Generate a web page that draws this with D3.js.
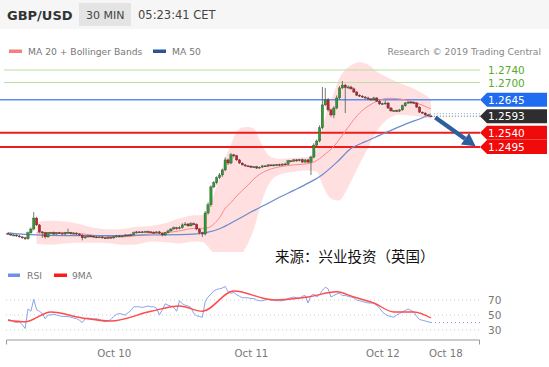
<!DOCTYPE html>
<html><head><meta charset="utf-8">
<script src="https://cdn.jsdelivr.net/npm/d3@7"></script>
<style>body{margin:0;background:#fff;} svg{display:block;font-family:"DejaVu Sans",sans-serif;}</style>
</head><body><svg id="c" width="549" height="367"></svg>
<script>
// ---------------- DATA ----------------
const firstOpen = 1.2220;
const closes = [
1.2218,1.2215,1.2215,1.2212,1.2209,1.2206,1.2203,1.2222,1.2234,1.2269,
1.2247,1.2225,1.2222,1.2209,1.2222,1.2222,1.2218,1.2222,1.2221,1.2218,
1.2222,1.2223,1.2219,1.2221,1.2218,1.2215,1.2206,1.2209,1.2212,1.2211,
1.2209,1.2208,1.2209,1.2206,1.2205,1.2208,1.2206,1.2209,1.2212,1.2211,
1.2212,1.2215,1.2214,1.2216,1.2222,1.2225,1.2224,1.2225,1.2226,1.2225,
1.2224,1.2222,1.2225,1.2221,1.2215,1.2222,1.2228,1.2234,1.2238,1.2235,
1.2238,1.2247,1.2250,1.2244,1.2251,1.2249,1.2234,1.2222,1.2218,1.2285,
1.2311,1.2368,1.2381,1.2397,1.2406,1.2422,1.2454,1.2444,1.2470,1.2467,
1.2454,1.2444,1.2438,1.2435,1.2434,1.2431,1.2432,1.2428,1.2431,1.2435,
1.2434,1.2438,1.2437,1.2438,1.2439,1.2437,1.2441,1.2440,1.2451,1.2450,
1.2454,1.2451,1.2455,1.2447,1.2454,1.2447,1.2463,1.2501,1.2514,1.2556,
1.2629,1.2645,1.2613,1.2597,1.2619,1.2651,1.2683,1.2692,1.2684,1.2686,
1.2680,1.2670,1.2660,1.2657,1.2654,1.2651,1.2648,1.2645,1.2651,1.2641,
1.2632,1.2633,1.2635,1.2619,1.2610,1.2611,1.2609,1.2613,1.2626,1.2635,
1.2638,1.2637,1.2635,1.2622,1.2606,1.2603,1.2597,1.2594,1.2593];
// wick lengths in pips above body top / below body bottom
const wickHi = [
3,2,3,2,3,2,3,4,5,19,
4,3,2,3,2,3,4,2,3,2,
3,12,2,3,2,3,2,3,2,3,
2,3,2,3,2,3,2,3,2,3,
2,3,2,3,4,3,2,3,2,3,
2,3,2,3,2,3,4,3,4,3,
5,5,6,3,5,4,3,2,3,6,
8,5,6,5,6,4,8,4,6,3,
3,3,2,3,2,3,2,3,2,3,
2,3,2,3,2,3,2,4,3,2,
3,3,2,3,2,3,4,6,5,8,
57,38,6,4,6,8,6,13,4,5,
4,4,3,3,3,3,4,3,4,3,
3,3,8,3,3,2,3,3,4,3,
3,3,3,3,3,2,3,2,2];
const wickLo = [
2,3,2,3,2,3,4,3,3,4,
3,4,16,5,3,2,3,2,3,2,
3,2,3,2,3,2,8,3,2,3,
2,3,2,3,2,3,2,3,2,3,
2,3,2,3,2,3,2,3,2,3,
2,3,2,3,4,3,2,3,2,3,
2,3,2,3,2,3,4,5,9,4,
5,6,4,5,4,6,4,6,4,5,
4,3,2,3,2,3,2,3,2,3,
2,3,2,3,2,3,2,3,2,3,
2,3,2,3,2,3,41,4,6,4,
5,4,5,6,10,4,5,4,81,4,
3,3,3,3,3,3,3,3,3,3,
3,3,3,3,3,3,3,3,3,3,
3,3,3,3,3,3,3,3,3];

// MA20 + Bollinger Bands (read at sample bars)
const bandIdx = [10,15,20,25,30,35,40,45,50,55,60,65,68,70,72,74,76,78,80,82,84,86,88,90,92,95,100,105,108,110,112,114,116,118,120,123,126,129,133,137,141,145,148];
const ma20 = [1.2222,1.2222,1.2223,1.2220,1.2214,1.2211,1.2209,1.2213,1.2219,1.2222,1.2228,1.2236,1.2236,1.2238,1.2250,1.2270,1.2300,1.2318,1.2339,1.2357,1.2374,1.2393,1.2408,1.2418,1.2425,1.2432,1.2438,1.2442,1.2452,1.2465,1.2480,1.2497,1.2520,1.2545,1.2570,1.2603,1.2625,1.2640,1.2650,1.2648,1.2640,1.2628,1.2616];
const bbUpper = [1.2257,1.2260,1.2258,1.2250,1.2238,1.2233,1.2234,1.2241,1.2244,1.2252,1.2268,1.2278,1.2279,1.2298,1.2345,1.2395,1.2460,1.2503,1.2544,1.2557,1.2559,1.2553,1.2518,1.2483,1.2463,1.2457,1.2460,1.2464,1.2487,1.2555,1.2620,1.2667,1.2715,1.2740,1.2755,1.2765,1.2757,1.2735,1.2715,1.2698,1.2685,1.2666,1.2647];
const bbLower = [1.2187,1.2184,1.2188,1.2190,1.2190,1.2189,1.2184,1.2185,1.2194,1.2192,1.2188,1.2194,1.2193,1.2178,1.2155,1.2145,1.2140,1.2133,1.2134,1.2157,1.2189,1.2233,1.2298,1.2353,1.2387,1.2407,1.2416,1.2420,1.2417,1.2375,1.2340,1.2327,1.2325,1.2350,1.2385,1.2441,1.2493,1.2545,1.2585,1.2598,1.2595,1.2590,1.2585];
// MA50
const ma50Idx = [0,8,20,35,50,65,70,74,80,85,90,95,100,105,110,115,120,125,130,135,140,145,148];
const ma50 = [1.2222,1.2216,1.2213,1.2213,1.2215,1.2218,1.2224,1.2235,1.2263,1.2288,1.2311,1.2335,1.2357,1.2380,1.2407,1.2446,1.2490,1.2512,1.2532,1.2552,1.2571,1.2588,1.2601];

// key levels
const resistLevels = [1.2740, 1.2700];
const pivotLevel = 1.2645;
const lastPrice = 1.2593;
const supportLevels = [1.2540, 1.2495];
const arrowFrom = {i:149.5, p:1.2589};
const arrowTo = {i:163.6, p:1.2497};

// RSI
const rsi = [
44,43,41,40,41,37,32,58,55,71,
57,55,52,45,50,50,51,50,49,48,
48,48,47,46,45,43,40,45,46,45,
45,45,44,42,41,42,44,48,51,52,
51,50,53,56,61,61,61,60,61,62,
61,61,59,50,57,65,63,62,60,55,
69,65,63,62,60,52,49,48,47,68,
74,78,82,84,85,86,88,81,79,80,
77,75,73,73,73,72,72,70,69,69,
70,71,70,70,69,69,69,70,72,73,
74,73,72,75,76,66,76,78,74,77,
83,87,85,74,76,78,79,76,76,75,
74,73,70,69,68,67,66,66,66,63,
59,54,51,49,48,47,50,52,54,56,
58,56,54,48,44,43,42,41,40];
const rsiMaIdx = [0,6,15,26,36,50,60,68,79,91,93,105,115,121,128,135,142,148];
const rsiMa = [43,41,54,46,42,55,62,55,82,71,70,74,81,74,66,54,54,46];
const rsiTicks = [70,50,30];

const xTickIdx = [37,85,131,153];
const xTickLabels = ["Oct 10","Oct 11","Oct 12","Oct 18"];

// ---------------- DRAW ----------------
const svg = d3.select("#c");
const W = 549;
const plotL = 6, plotR = 480;

// header
svg.append("rect").attr("x",0).attr("y",0).attr("width",W).attr("height",29).attr("fill","#f6f6f6");
svg.append("text").attr("x",7).attr("y",20).attr("font-weight","bold").attr("font-size",13).attr("fill","#333").text("GBP/USD");
svg.append("rect").attr("x",79).attr("y",3).attr("width",52).attr("height",23).attr("fill","#e4e4e4");
svg.append("text").attr("x",86).attr("y",19).attr("font-size",11).attr("fill","#444").text("30 MIN");
svg.append("text").attr("x",138).attr("y",19).attr("font-size",11.5).attr("fill","#444").text("05:23:41 CET");

// legend
svg.append("rect").attr("x",9).attr("y",49.5).attr("width",13).attr("height",3.5).attr("fill","#f57f7f");
svg.append("text").attr("x",28).attr("y",54.5).attr("font-size",9.2).attr("fill","#777").text("MA 20 + Bollinger Bands");
svg.append("rect").attr("x",153).attr("y",49.5).attr("width",13).attr("height",3.5).attr("fill","#2c5597");
svg.append("text").attr("x",172).attr("y",54.5).attr("font-size",9.2).attr("fill","#777").text("MA 50");
svg.append("text").attr("x",541).attr("y",54.5).attr("text-anchor","end").attr("font-size",9.2).attr("fill","#888").text("Research \u00A9 2019 Trading Central");

// scales
const x = d3.scaleLinear().domain([0,148]).range([8,431]);
const y = d3.scaleLinear().domain([1.2495,1.2740]).range([147,70]);
const yR = d3.scaleLinear().domain([30,70]).range([330,300]);

// clip
const defs = svg.append("defs");
defs.append("clipPath").attr("id","pc").append("rect").attr("x",0).attr("y",58).attr("width",plotR).attr("height",194);
const gP = svg.append("g").attr("clip-path","url(#pc)");

// bollinger band
const bandData = bandIdx.map((d,k)=>({i:d,u:bbUpper[k],l:bbLower[k],m:ma20[k]}));
gP.append("path").datum(bandData)
  .attr("d", d3.area().curve(d3.curveMonotoneX).x(d=>x(d.i)).y0(d=>y(d.l)).y1(d=>y(d.u)))
  .attr("fill","#ffd9d9").attr("opacity",0.85);

// level lines
resistLevels.forEach(p=>{
  gP.append("line").attr("x1",4).attr("x2",plotR).attr("y1",y(p)).attr("y2",y(p)).attr("stroke","#b9dea0").attr("stroke-width",1);
});
gP.append("line").attr("x1",0).attr("x2",plotR).attr("y1",y(pivotLevel)).attr("y2",y(pivotLevel)).attr("stroke","#5d8ff0").attr("stroke-width",1.5);
supportLevels.forEach(p=>{
  gP.append("line").attr("x1",0).attr("x2",plotR).attr("y1",y(p)).attr("y2",y(p)).attr("stroke","#ee1c1c").attr("stroke-width",2);
});

// MA lines
gP.append("path").datum(bandData)
  .attr("d", d3.line().curve(d3.curveMonotoneX).x(d=>x(d.i)).y(d=>y(d.m)))
  .attr("fill","none").attr("stroke","#f78a8a").attr("stroke-width",1);
const m50 = ma50Idx.map((d,k)=>({i:d,v:ma50[k]}));
gP.append("path").datum(m50)
  .attr("d", d3.line().curve(d3.curveMonotoneX).x(d=>x(d.i)).y(d=>y(d.v)))
  .attr("fill","none").attr("stroke","#6a8ccc").attr("stroke-width",1.2);

// candles
const candles = closes.map((c,i)=>{
  const o = i===0 ? firstOpen : closes[i-1];
  const top = Math.max(o,c), bot = Math.min(o,c);
  return {i, o, c, h: top + wickHi[i]/10000, l: bot - wickLo[i]/10000};
});
const cg = gP.append("g");
cg.selectAll("line.w").data(candles).join("line")
  .attr("x1",d=>x(d.i)).attr("x2",d=>x(d.i))
  .attr("y1",d=>y(d.h)).attr("y2",d=>y(d.l))
  .attr("stroke","#555").attr("stroke-width",0.8);
cg.selectAll("rect").data(candles).join("rect")
  .attr("x",d=>x(d.i)-1.2).attr("width",2.4)
  .attr("y",d=>y(Math.max(d.o,d.c)))
  .attr("height",d=>Math.max(1, Math.abs(y(d.o)-y(d.c))))
  .attr("fill",d=> d.c>=d.o ? "#2f9a2f" : "#c8202a")
  .attr("stroke","#333").attr("stroke-width",0.3);

// last price dotted lines
svg.append("line").attr("x1",x(149)).attr("x2",plotR).attr("y1",y(ma50[ma50.length-1])).attr("y2",y(ma50[ma50.length-1]))
  .attr("stroke","#8aa6d8").attr("stroke-width",1).attr("stroke-dasharray","1,2");
svg.append("line").attr("x1",x(149)).attr("x2",plotR).attr("y1",y(lastPrice)).attr("y2",y(lastPrice))
  .attr("stroke","#666").attr("stroke-width",1).attr("stroke-dasharray","1,2");

// arrow
const ax1 = x(arrowFrom.i), ay1 = y(arrowFrom.p), ax2 = x(arrowTo.i), ay2 = y(arrowTo.p);
const ang = Math.atan2(ay2-ay1, ax2-ax1);
const hl = 13, hw = 7;
const bx = ax2 - hl*Math.cos(ang), by = ay2 - hl*Math.sin(ang);
svg.append("line").attr("x1",ax1).attr("y1",ay1).attr("x2",bx).attr("y2",by)
  .attr("stroke","#2d5e9e").attr("stroke-width",4.2);
svg.append("path").attr("d",`M${ax2},${ay2}L${bx+hw*Math.sin(ang)},${by-hw*Math.cos(ang)}L${bx-hw*Math.sin(ang)},${by+hw*Math.cos(ang)}Z`).attr("fill","#2d5e9e");

// labels
resistLevels.forEach(p=>{
  svg.append("text").attr("x",488).attr("y",y(p)+4).attr("font-size",10.5).attr("fill","#5aaa2c").text(p.toFixed(4));
});
function tag(p, fill){
  const yy = y(p);
  svg.append("path").attr("d",`M${plotR},${yy}L${plotR+7},${yy-7}L547,${yy-7}L547,${yy+7}L${plotR+7},${yy+7}Z`).attr("fill",fill);
  svg.append("text").attr("x",488).attr("y",yy+4).attr("font-size",10.5).attr("fill","#fff").text(p.toFixed(4));
}
tag(pivotLevel,"#1f6cf0");
tag(lastPrice,"#2e2e2e");
supportLevels.forEach(p=>tag(p,"#f00a0a"));

// chinese source text
svg.append("text").attr("x",275).attr("y",262).attr("font-family","'Noto Sans CJK SC',sans-serif").attr("font-size",14.5).attr("fill","#111").text("来源：兴业投资（英国）");

// RSI panel
svg.append("rect").attr("x",8).attr("y",273.5).attr("width",12).attr("height",3.5).attr("fill","#6f90e6");
svg.append("text").attr("x",27).attr("y",278.5).attr("font-size",9.2).attr("fill","#777").text("RSI");
svg.append("rect").attr("x",54).attr("y",273.5).attr("width",13).attr("height",3.5).attr("fill","#ff1a1a");
svg.append("text").attr("x",72).attr("y",278.5).attr("font-size",9.2).attr("fill","#777").text("9MA");

rsiTicks.forEach(t=>{
  svg.append("line").attr("x1",plotL).attr("x2",plotR).attr("y1",yR(t)).attr("y2",yR(t))
    .attr("stroke","#ccc").attr("stroke-dasharray","1,3");
  svg.append("text").attr("x",488).attr("y",yR(t)+4).attr("font-size",10.5).attr("fill","#777").text(t);
});
svg.append("path").datum(rsi)
  .attr("d", d3.line().x((d,i)=>x(i)).y(d=>yR(d)))
  .attr("fill","none").attr("stroke","#86a4ee").attr("stroke-width",1);
svg.append("line").attr("x1",x(148)).attr("x2",plotR).attr("y1",yR(rsi[rsi.length-1])).attr("y2",yR(rsi[rsi.length-1]))
  .attr("stroke","#86a4ee").attr("stroke-dasharray","1,3");
svg.append("path").datum(rsiMaIdx.map((d,k)=>({i:d,v:rsiMa[k]})))
  .attr("d", d3.line().curve(d3.curveMonotoneX).x(d=>x(d.i)).y(d=>yR(d.v)))
  .attr("fill","none").attr("stroke","#ff4b4b").attr("stroke-width",1.4);

// x axis
const xa = x.copy().domain([x.invert(6), x.invert(479)]).range([6,479]);
const axis = svg.append("g").attr("transform","translate(0,339.5)")
  .call(d3.axisBottom(xa).tickValues(xTickIdx).tickFormat((d,k)=>xTickLabels[k]).tickSizeInner(0).tickSizeOuter(5).tickPadding(10));
axis.select(".domain").attr("stroke","#999");
axis.selectAll("text").attr("font-size",10.2).attr("fill","#777").attr("font-family","DejaVu Sans");
</script>
</body></html>
